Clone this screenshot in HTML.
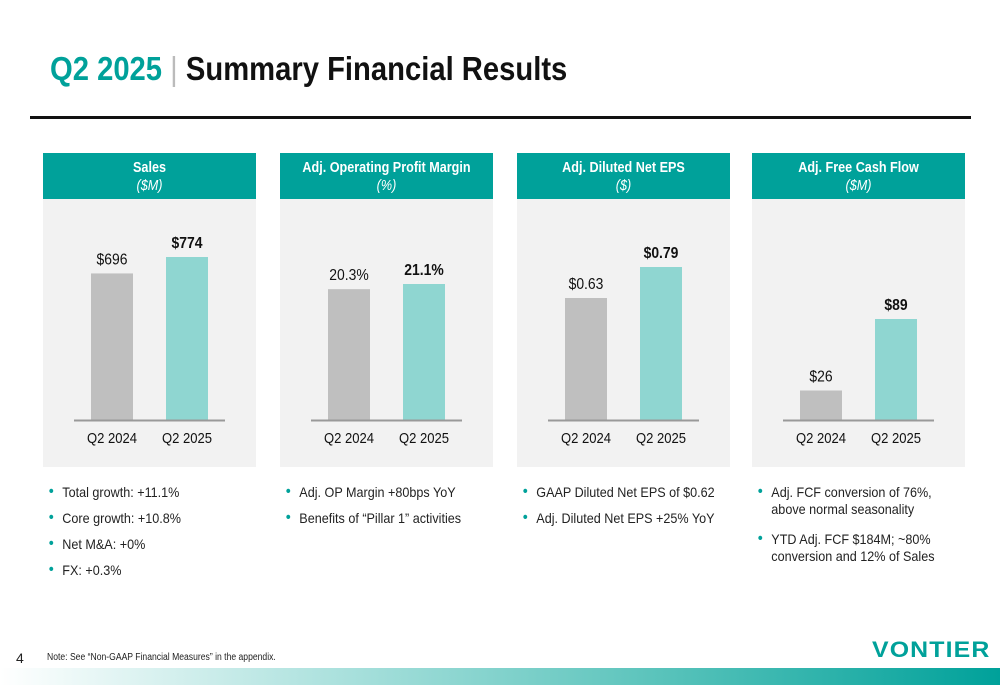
<!DOCTYPE html>
<html><head><meta charset="utf-8"><style>
*{margin:0;padding:0;box-sizing:border-box}
body{width:1000px;height:685px;background:#fff;position:relative;overflow:hidden;font-family:"Liberation Sans",sans-serif;color:#222}
.title{position:absolute;left:50px;top:50px;font-size:33px;font-weight:bold;color:#111;white-space:nowrap;transform:scaleX(0.885);transform-origin:left top}
.title .t{color:#00a19a}.title .sep{color:#bbb;font-weight:normal}
.rule{position:absolute;left:30px;top:116px;width:941px;height:3px;background:#111}
.panel{position:absolute;top:153px;width:213px;height:314px;background:#f2f2f2}
.hdr{height:46px;background:#00a19a;color:#fff;text-align:center;font-size:14.5px;padding-top:6px;line-height:18px}
.hdr b,.hdr i{display:block;white-space:nowrap;transform:scaleX(0.87)}
.bullets{position:absolute;top:484px;width:230px;font-size:14px;line-height:17px;transform:scaleX(0.9);transform-origin:left top}
.bullets div{position:relative;padding-left:17px;margin-bottom:9px}
.bullets div:before{content:"•";position:absolute;left:2px;top:-1px;color:#00a19a;font-size:16px}
.note{position:absolute;left:47px;top:652px;font-size:10px;transform:scaleX(0.86);transform-origin:left top;white-space:nowrap}
.pnum{position:absolute;left:16px;top:650px;font-size:14px}
.logo{position:absolute;left:872px;top:637px;font-size:22px;font-weight:bold;color:#00a19a;letter-spacing:1px;transform:scaleX(1.13);transform-origin:left top}
.grad{position:absolute;left:0;top:668px;width:1000px;height:17px;background:linear-gradient(90deg,#fff 0%,#a8e0dc 35%,#5cc4bc 65%,#00a19a 100%)}
</style></head><body>
<div class="title"><span class="t">Q2 2025</span> <span class="sep">|</span> Summary Financial Results</div>
<div class="rule"></div>
<div id="panels"></div>
<div class="bullets" style="left:47px"><div>Total growth: +11.1%</div><div>Core growth: +10.8%</div><div>Net M&amp;A: +0%</div><div>FX: +0.3%</div></div>
<div class="bullets" style="left:284px"><div>Adj. OP Margin +80bps YoY</div><div>Benefits of “Pillar 1” activities</div></div>
<div class="bullets" style="left:521px"><div>GAAP Diluted Net EPS of $0.62</div><div>Adj. Diluted Net EPS +25% YoY</div></div>
<div class="bullets" style="left:756px;width:205px"><div style="margin-bottom:13px">Adj. FCF conversion of 76%, above normal seasonality</div><div>YTD Adj. FCF $184M; ~80% conversion and 12% of Sales</div></div>
<div class="pnum">4</div>
<div class="note">Note: See “Non-GAAP Financial Measures” in the appendix.</div>
<div class="logo">VONTIER</div>
<div class="grad"></div>
<script>
const titles=["Sales","Adj. Operating Profit Margin","Adj. Diluted Net EPS","Adj. Free Cash Flow"];
const units=["($M)","(%)","($)","($M)"];
const categories=["Q2 2024","Q2 2025"];
const prior=[696,20.3,0.63,26];
const current=[774,21.1,0.79,89];
const priorLabels=["$696","20.3%","$0.63","$26"];
const currentLabels=["$774","21.1%","$0.79","$89"];
const scaleMax=[774,21.1,0.79,89];
const maxPx=[163,136,153,101];
const lefts=[43,280,517,752];
const NS="http://www.w3.org/2000/svg";
const host=document.getElementById('panels');
function squeeze(t){const w=t.getComputedTextLength();t.setAttribute('textLength',w*0.87);t.setAttribute('lengthAdjust','spacingAndGlyphs');}
titles.forEach((t,i)=>{
 const p=document.createElement('div');p.className='panel';p.style.left=lefts[i]+'px';
 
 
 p.innerHTML='<div class="hdr"><b>'+t+'</b><i>'+units[i]+'</i></div>';
 host.appendChild(p);
 const svg=document.createElementNS(NS,'svg');svg.setAttribute('width','213');svg.setAttribute('height','268');
 svg.style.position='absolute';svg.style.left='0';svg.style.top='46px';
 
 
 p.appendChild(svg);
 const base=221; const y=v=>base-v/scaleMax[i]*maxPx[i];
 const vals=[prior[i],current[i]],labs=[priorLabels[i],currentLabels[i]],xs=[48,123],cols=['#bfbfbf','#8fd6d1'];
 vals.forEach((v,j)=>{
  const r=document.createElementNS(NS,'rect');
  r.setAttribute('x',xs[j]);r.setAttribute('y',y(v));r.setAttribute('width',42);r.setAttribute('height',base-y(v));r.setAttribute('fill',cols[j]);
  
  
  svg.appendChild(r);
  const tx=document.createElementNS(NS,'text');
  tx.setAttribute('x',xs[j]+21);tx.setAttribute('y',y(v)-9);tx.setAttribute('text-anchor','middle');
  tx.setAttribute('font-size','16');if(j==1)tx.setAttribute('font-weight','bold');tx.setAttribute('fill','#111');
  tx.textContent=labs[j];
  
  
  svg.appendChild(tx);squeeze(tx);
  const c=document.createElementNS(NS,'text');
  c.setAttribute('x',xs[j]+21);c.setAttribute('y',base+23);c.setAttribute('text-anchor','middle');
  c.setAttribute('font-size','15');c.setAttribute('fill','#111');c.textContent=categories[j];
  
  
  svg.appendChild(c);squeeze(c);
 });
 const l=document.createElementNS(NS,'line');
 l.setAttribute('x1',31);l.setAttribute('x2',182);l.setAttribute('y1',base+0.5);l.setAttribute('y2',base+0.5);
 l.setAttribute('stroke','#999');l.setAttribute('stroke-width','2');
 
 
 svg.appendChild(l);
});
</script>
</body></html>
